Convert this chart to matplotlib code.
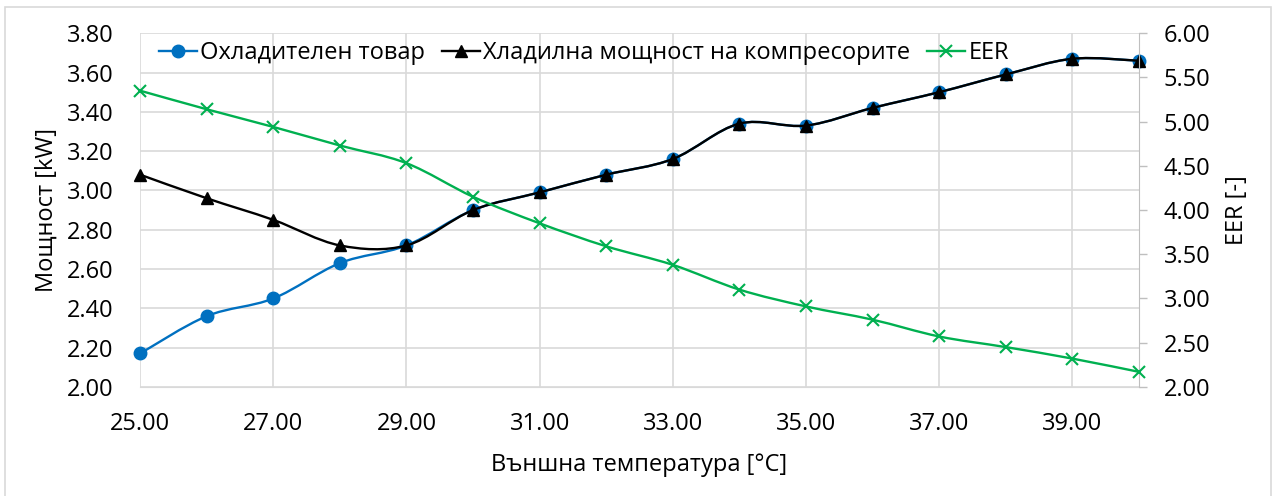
import matplotlib
matplotlib.use('Agg')
import matplotlib.pyplot as plt
import numpy as np
from matplotlib.path import Path
from matplotlib.patches import PathPatch, Rectangle
from matplotlib.lines import Line2D

plt.rcParams['font.family'] = ['Open Sans', 'DejaVu Sans']

# външна температура, °C
temp = [25, 26, 27, 28, 29, 30, 31, 32, 33, 34, 35, 36, 37, 38, 39, 40]
# охладителен товар, kW
load = [2.17, 2.36, 2.45, 2.63, 2.72, 2.90, 2.99, 3.08, 3.16, 3.34, 3.33, 3.42, 3.50, 3.59, 3.67, 3.66]
# хладилна мощност на компресорите, kW
capacity = [3.08, 2.96, 2.85, 2.72, 2.72, 2.90, 2.99, 3.08, 3.16, 3.34, 3.33, 3.42, 3.50, 3.59, 3.67, 3.66]
# EER, -
eer = [5.35, 5.14, 4.94, 4.73, 4.53, 4.15, 3.85, 3.59, 3.38, 3.10, 2.91, 2.76, 2.57, 2.45, 2.32, 2.17]

x_ticks = [25, 27, 29, 31, 33, 35, 37, 39]
left_ticks = np.arange(2.0, 3.81, 0.2)
right_ticks = np.arange(2.0, 6.01, 0.5)

BLUE = '#0070C0'
GREEN = '#00B050'
GRID = '#D9D9D9'
FS = 17


def smooth_path(xs, ys):
    # Bezier curve through the points, like the "smoothed line" option in Excel
    p = np.column_stack([xs, ys]).astype(float)
    pts = np.vstack([p[0], p, p[-1]])
    verts = [tuple(p[0])]
    codes = [Path.MOVETO]
    for i in range(1, len(pts) - 2):
        c1 = pts[i] + (pts[i + 1] - pts[i - 1]) / 6
        c2 = pts[i + 1] - (pts[i + 2] - pts[i]) / 6
        verts += [tuple(c1), tuple(c2), tuple(pts[i + 1])]
        codes += [Path.CURVE4] * 3
    return Path(verts, codes)


fig = plt.figure(figsize=(12.74, 4.96), dpi=100)
# chart area border
fig.patches.append(Rectangle((0.004, -0.02), 0.994, 1.006, transform=fig.transFigure,
                             fill=False, edgecolor='#D9D9D9', linewidth=1.2))
ax1 = fig.add_axes([0.110, 0.220, 0.784, 0.713])
ax2 = ax1.twinx()

ax1.add_patch(PathPatch(smooth_path(temp, load), facecolor='none', edgecolor=BLUE, lw=1.7, zorder=3))
ax1.plot(temp, load, 'o', color=BLUE, ms=9, zorder=4, clip_on=False)
ax1.add_patch(PathPatch(smooth_path(temp, capacity), facecolor='none', edgecolor='black', lw=1.7, zorder=5))
ax1.plot(temp, capacity, '^', color='black', ms=8.5, zorder=6, clip_on=False)

ax2.add_patch(PathPatch(smooth_path(temp, eer), facecolor='none', edgecolor=GREEN, lw=1.7, zorder=3))
ax2.plot(temp, eer, 'x', color=GREEN, ms=8, mew=1.5, zorder=4, clip_on=False)

ax1.set_xlim(25, 40)
ax1.set_ylim(2.0, 3.8)
ax2.set_ylim(2.0, 6.0)
ax1.set_xticks(x_ticks)
ax1.set_xticklabels(['%.2f' % t for t in x_ticks])
ax1.set_yticks(left_ticks)
ax1.set_yticklabels(['%.2f' % t for t in left_ticks])
ax2.set_yticks(right_ticks)
ax2.set_yticklabels(['%.2f' % t for t in right_ticks])

ax1.grid(True, color=GRID, lw=1.2)
ax1.set_axisbelow(True)
for s in ['top', 'left', 'right']:
    ax1.spines[s].set_visible(False)
for s in ['top', 'left', 'bottom']:
    ax2.spines[s].set_visible(False)
ax1.spines['bottom'].set_color(GRID)
ax2.spines['right'].set_color('#BFBFBF')

ax1.tick_params(axis='both', length=0, labelsize=FS, colors='black')
ax1.tick_params(axis='x', pad=18)
ax1.tick_params(axis='y', pad=19)
ax2.tick_params(axis='y', length=6, width=1, color='#BFBFBF', labelsize=FS, pad=12)

ax1.set_xlabel('Външна температура [°C]', fontsize=FS, labelpad=12)
ax1.set_ylabel('Мощност [kW]', fontsize=FS, labelpad=6)
ax2.set_ylabel('EER [-]', fontsize=FS, labelpad=10)

handles = [
    Line2D([], [], color=BLUE, lw=1.7, marker='o', ms=9),
    Line2D([], [], color='black', lw=1.7, marker='^', ms=8.5),
    Line2D([], [], color=GREEN, lw=1.7, marker='x', ms=8, mew=1.5),
]
labels = ['Охладителен товар', 'Хладилна мощност на компресорите', 'EER']
ax2.legend(handles, labels, loc='center left', bbox_to_anchor=(0.019, 0.944), ncol=3,
           frameon=False, fontsize=FS, handlelength=1.6, handletextpad=0.15,
           columnspacing=0.7, borderpad=0, borderaxespad=0)

fig.savefig('out.png', dpi=100)
